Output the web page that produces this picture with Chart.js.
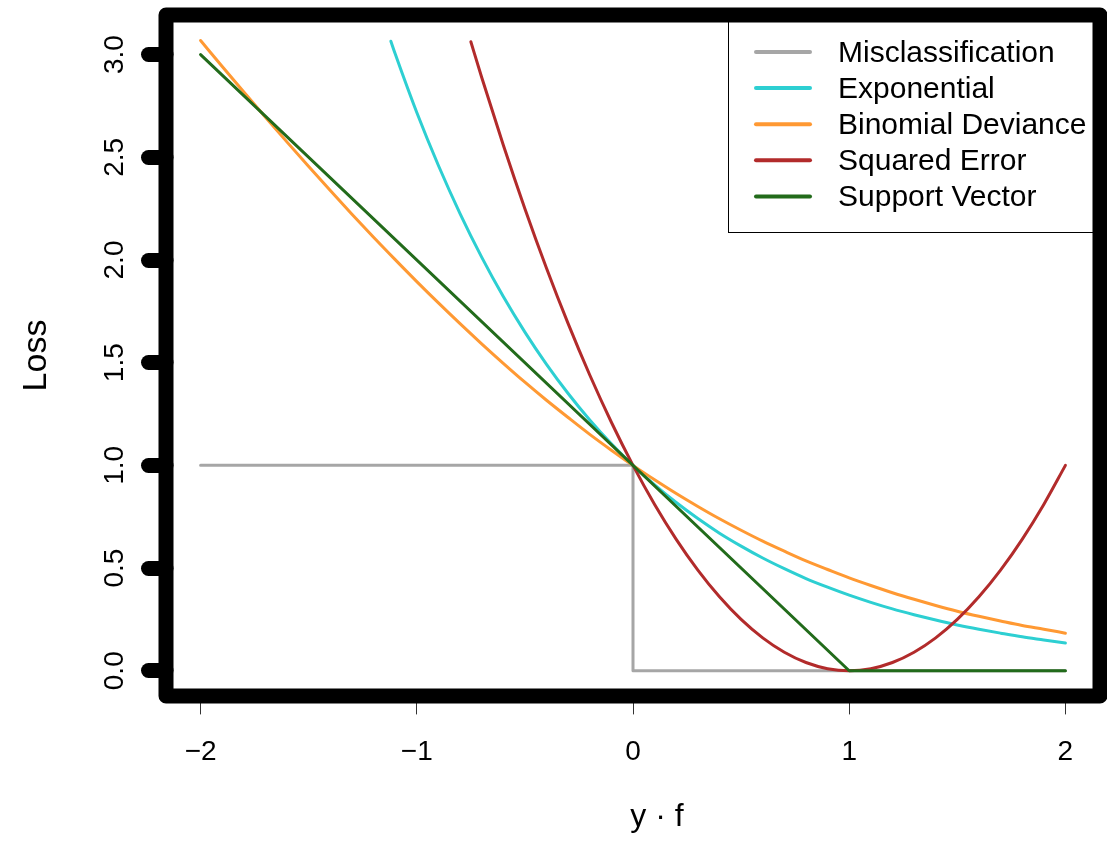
<!DOCTYPE html>
<html>
<head>
<meta charset="utf-8">
<script src="https://cdn.jsdelivr.net/npm/chart.js@4.4.1/dist/chart.umd.min.js"></script>
<style>
  html, body { margin: 0; padding: 0; background: #ffffff; }
  #wrap { width: 1107px; height: 841px; }
</style>
</head>
<body>
<div id="wrap"><canvas id="c" width="1107" height="841"></canvas></div>
<script>
// ---- data ----
const seriesNames = ['Misclassification', 'Exponential', 'Binomial Deviance', 'Squared Error', 'Support Vector'];
const seriesColors = ['#a6a6a6', '#2dcfd2', '#ff9933', '#b22b2b', '#226b1b'];

const xTicks = [-2, -1, 0, 1, 2];
const xTickLabels = ['\u22122', '\u22121', '0', '1', '2'];
const yTicks = [0, 0.5, 1, 1.5, 2, 2.5, 3];
const yTickLabels = ['0.0', '0.5', '1.0', '1.5', '2.0', '2.5', '3.0'];

const misclassX = [-2, 0, 0, 2];
const misclassY = [1, 1, 0, 0];

const expX = [-1.12, -1.1, -1.0, -0.9, -0.8, -0.7, -0.6, -0.5, -0.4, -0.3, -0.2, -0.1, 0.0,
  0.1, 0.2, 0.3, 0.4, 0.5, 0.6, 0.7, 0.8, 0.9, 1.0, 1.1, 1.2, 1.3, 1.4, 1.5, 1.6, 1.7, 1.8, 1.9, 2.0];
const expY = [3.065, 3.004, 2.718, 2.460, 2.226, 2.014, 1.822, 1.649, 1.492, 1.350, 1.221, 1.105, 1.000,
  0.905, 0.819, 0.741, 0.670, 0.607, 0.549, 0.497, 0.449, 0.407, 0.368, 0.333, 0.301, 0.273, 0.247, 0.223, 0.202, 0.183, 0.165, 0.150, 0.135];

const binomX = [-2.0, -1.9, -1.8, -1.7, -1.6, -1.5, -1.4, -1.3, -1.2, -1.1, -1.0, -0.9, -0.8, -0.7, -0.6, -0.5, -0.4, -0.3, -0.2, -0.1, 0.0,
  0.1, 0.2, 0.3, 0.4, 0.5, 0.6, 0.7, 0.8, 0.9, 1.0, 1.1, 1.2, 1.3, 1.4, 1.5, 1.6, 1.7, 1.8, 1.9, 2.0];
const binomY = [3.069, 2.942, 2.818, 2.695, 2.574, 2.455, 2.338, 2.223, 2.111, 2.002, 1.895, 1.791, 1.690, 1.592, 1.497, 1.405, 1.317, 1.233, 1.151, 1.074, 1.000,
  0.930, 0.863, 0.800, 0.740, 0.684, 0.631, 0.582, 0.535, 0.493, 0.452, 0.415, 0.380, 0.348, 0.318, 0.290, 0.265, 0.242, 0.220, 0.202, 0.183];

const sqX = [-0.75, -0.7, -0.6, -0.5, -0.4, -0.3, -0.2, -0.1, 0.0, 0.1, 0.2, 0.3, 0.4, 0.5, 0.6, 0.7, 0.8, 0.9, 1.0,
  1.1, 1.2, 1.3, 1.4, 1.5, 1.6, 1.7, 1.8, 1.9, 2.0];
const sqY = [3.0625, 2.89, 2.56, 2.25, 1.96, 1.69, 1.44, 1.21, 1.00, 0.81, 0.64, 0.49, 0.36, 0.25, 0.16, 0.09, 0.04, 0.01, 0.00,
  0.01, 0.04, 0.09, 0.16, 0.25, 0.36, 0.49, 0.64, 0.81, 1.00];

const svX = [-2, 1, 2];
const svY = [3, 0, 0];

// ---- build ----
const pts = (xs, ys) => xs.map((x, i) => ({ x: x, y: ys[i] }));
const seriesData = [pts(misclassX, misclassY), pts(expX, expY), pts(binomX, binomY), pts(sqX, sqY), pts(svX, svY)];
const smooth = [false, true, true, true, false];

const FONT = "'Liberation Sans', Arial, Helvetica, sans-serif";

const datasets = seriesNames.map((name, i) => ({
  label: name,
  data: seriesData[i],
  borderColor: seriesColors[i],
  backgroundColor: seriesColors[i],
  borderWidth: 3,
  pointRadius: 0,
  pointHoverRadius: 0,
  fill: false,
  borderCapStyle: 'round',
  borderJoinStyle: 'round',
  cubicInterpolationMode: smooth[i] ? 'monotone' : 'default',
  tension: 0,
  order: seriesNames.length - i
}));

const roundCaps = {
  id: 'roundCaps',
  beforeDraw(chart) { chart.ctx.lineCap = 'round'; }
};

const legendAndBox = {
  id: 'legendAndBox',
  afterDatasetsDraw(chart) {
    const ctx = chart.ctx;
    const a = chart.chartArea;
    // legend box (top-right inside plot region)
    const lw = 372, lh = 217;
    const lx = a.right - lw, ly = a.top;
    ctx.save();
    ctx.fillStyle = '#ffffff';
    ctx.fillRect(lx, ly, lw, lh);
    ctx.lineWidth = 1;
    ctx.strokeStyle = '#000000';
    ctx.strokeRect(lx + 0.5, ly + 0.5, lw, lh);
    ctx.font = '30px ' + FONT;
    ctx.textBaseline = 'middle';
    ctx.textAlign = 'left';
    chart.data.datasets.forEach((ds, i) => {
      const ry = ly + 37 + 36.1 * i;
      ctx.beginPath();
      ctx.lineCap = 'round';
      ctx.lineWidth = 4;
      ctx.strokeStyle = ds.borderColor;
      ctx.moveTo(lx + 28, ry);
      ctx.lineTo(lx + 82, ry);
      ctx.stroke();
      ctx.fillStyle = '#000000';
      ctx.fillText(ds.label, lx + 110, ry + 1.5);
    });
    // heavy plot frame
    ctx.lineWidth = 15;
    ctx.lineJoin = 'round';
    ctx.strokeStyle = '#000000';
    ctx.strokeRect(a.left, a.top, a.right - a.left, a.bottom - a.top);
    ctx.restore();
  }
};

function noPad(s) { s.paddingTop = 0; s.paddingBottom = 0; s.paddingLeft = 0; s.paddingRight = 0; }

new Chart(document.getElementById('c'), {
  type: 'line',
  data: { datasets: datasets },
  plugins: [roundCaps, legendAndBox],
  options: {
    responsive: false,
    animation: false,
    events: [],
    layout: { padding: { top: 15, right: 7, left: 0, bottom: 0 } },
    plugins: { legend: { display: false }, tooltip: { enabled: false } },
    scales: {
      x: {
        type: 'linear',
        min: -2.16,
        max: 2.16,
        afterFit(s) { s.height = 145; noPad(s); },
        afterBuildTicks(s) { s.ticks = xTicks.map(v => ({ value: v })); },
        border: { display: false },
        grid: { display: true, drawOnChartArea: false, drawTicks: true, tickLength: 18, tickWidth: 1, tickColor: '#333333' },
        ticks: {
          padding: 21,
          maxRotation: 0,
          minRotation: 0,
          color: '#000000',
          font: { family: FONT, size: 28 },
          callback: (v) => { const k = xTicks.indexOf(v); return k >= 0 ? xTickLabels[k] : ''; }
        },
        title: {
          display: true,
          text: '\u2002\u2002\u2002y \u00b7 f',
          color: '#000000',
          font: { family: FONT, size: 32 },
          padding: { top: 0, bottom: 5 }
        }
      },
      y: {
        type: 'linear',
        min: -0.123,
        max: 3.193,
        afterFit(s) { s.width = 166; noPad(s); },
        afterBuildTicks(s) { s.ticks = yTicks.map(v => ({ value: v })); },
        border: { display: false },
        grid: { display: true, drawOnChartArea: false, drawTicks: true, tickLength: 17.5, tickWidth: 15, tickColor: '#000000' },
        ticks: {
          padding: 14,
          minRotation: 90,
          maxRotation: 90,
          crossAlign: 'center',
          color: '#000000',
          font: { family: FONT, size: 28 },
          callback: (v) => { const k = yTicks.indexOf(v); return k >= 0 ? yTickLabels[k] : ''; }
        },
        title: {
          display: true,
          text: 'Loss',
          color: '#000000',
          font: { family: FONT, size: 34 },
          padding: { top: 16, bottom: 0 }
        }
      }
    }
  }
});
</script>
</body>
</html>
